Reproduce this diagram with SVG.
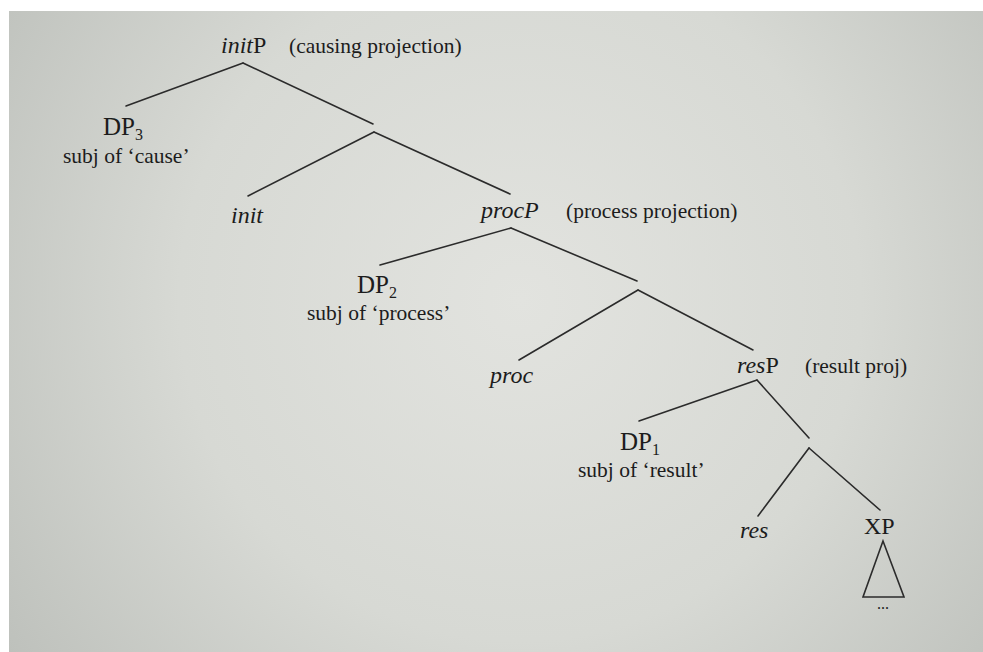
<svg xmlns="http://www.w3.org/2000/svg" width="983" height="652" viewBox="0 0 983 652">
<defs>
<radialGradient id="bg" cx="520" cy="300" r="620" gradientUnits="userSpaceOnUse">
<stop offset="0" stop-color="#e2e3df"/>
<stop offset="0.55" stop-color="#d7d9d4"/>
<stop offset="1" stop-color="#bec1bc"/>
</radialGradient>
<style>
text{font-family:"Liberation Serif","Times New Roman",serif;fill:#1c1c1c;}
.lab{font-size:24px;}
.dp{font-size:25px;}
.ann{font-size:21.5px;}
.it{font-style:italic;}
.sub{font-size:16px;}
.edge{stroke:#2b2b2b;stroke-width:1.6;fill:none;stroke-linecap:round;}
</style>
</defs>
<rect width="983" height="652" fill="#ffffff"/>
<rect x="9" y="11" width="974" height="641" fill="url(#bg)"/>
<g id="connectors">
<line class="edge" x1="243" y1="63" x2="126" y2="106"/>
<line class="edge" x1="243" y1="63" x2="373" y2="124"/>
<line class="edge" x1="374" y1="132" x2="248" y2="196"/>
<line class="edge" x1="374" y1="132" x2="510" y2="194"/>
<line class="edge" x1="511" y1="228" x2="380" y2="265"/>
<line class="edge" x1="511" y1="228" x2="637" y2="281"/>
<line class="edge" x1="638" y1="290" x2="519" y2="360"/>
<line class="edge" x1="638" y1="290" x2="753" y2="350"/>
<line class="edge" x1="757" y1="380" x2="639" y2="421"/>
<line class="edge" x1="757" y1="380" x2="809" y2="438"/>
<line class="edge" x1="809" y1="448" x2="758" y2="516"/>
<line class="edge" x1="809" y1="448" x2="880" y2="510"/>
</g>
<g id="initP">
<text class="lab" x="221" y="53"><tspan class="it">init</tspan>P</text>
<text class="ann" x="289" y="53">(causing projection)</text>
</g>
<g id="DP3">
<text class="dp" x="103" y="135">DP<tspan class="sub" dy="5">3</tspan></text>
<text class="ann" x="63" y="163">subj of ‘cause’</text>
</g>
<g id="init">
<text class="lab it" x="231" y="223">init</text>
</g>
<g id="procP">
<text class="lab it" x="481" y="218">procP</text>
<text class="ann" x="566" y="218">(process projection)</text>
</g>
<g id="DP2">
<text class="dp" x="357" y="293">DP<tspan class="sub" dy="5">2</tspan></text>
<text class="ann" x="307" y="320">subj of ‘process’</text>
</g>
<g id="proc">
<text class="lab it" x="490" y="383">proc</text>
</g>
<g id="resP">
<text class="lab" x="737" y="373"><tspan class="it">res</tspan>P</text>
<text class="ann" x="805" y="373">(result proj)</text>
</g>
<g id="DP1">
<text class="dp" x="620" y="450">DP<tspan class="sub" dy="5">1</tspan></text>
<text class="ann" x="578" y="477">subj of ‘result’</text>
</g>
<g id="res">
<text class="lab it" x="740" y="538">res</text>
</g>
<g id="XP">
<text class="lab" x="864" y="534">XP</text>
<polygon class="edge" points="883,541 863,597 904,597" stroke-linejoin="miter"/>
<text x="883" y="609" font-size="16" text-anchor="middle">...</text>
</g>
</svg>
